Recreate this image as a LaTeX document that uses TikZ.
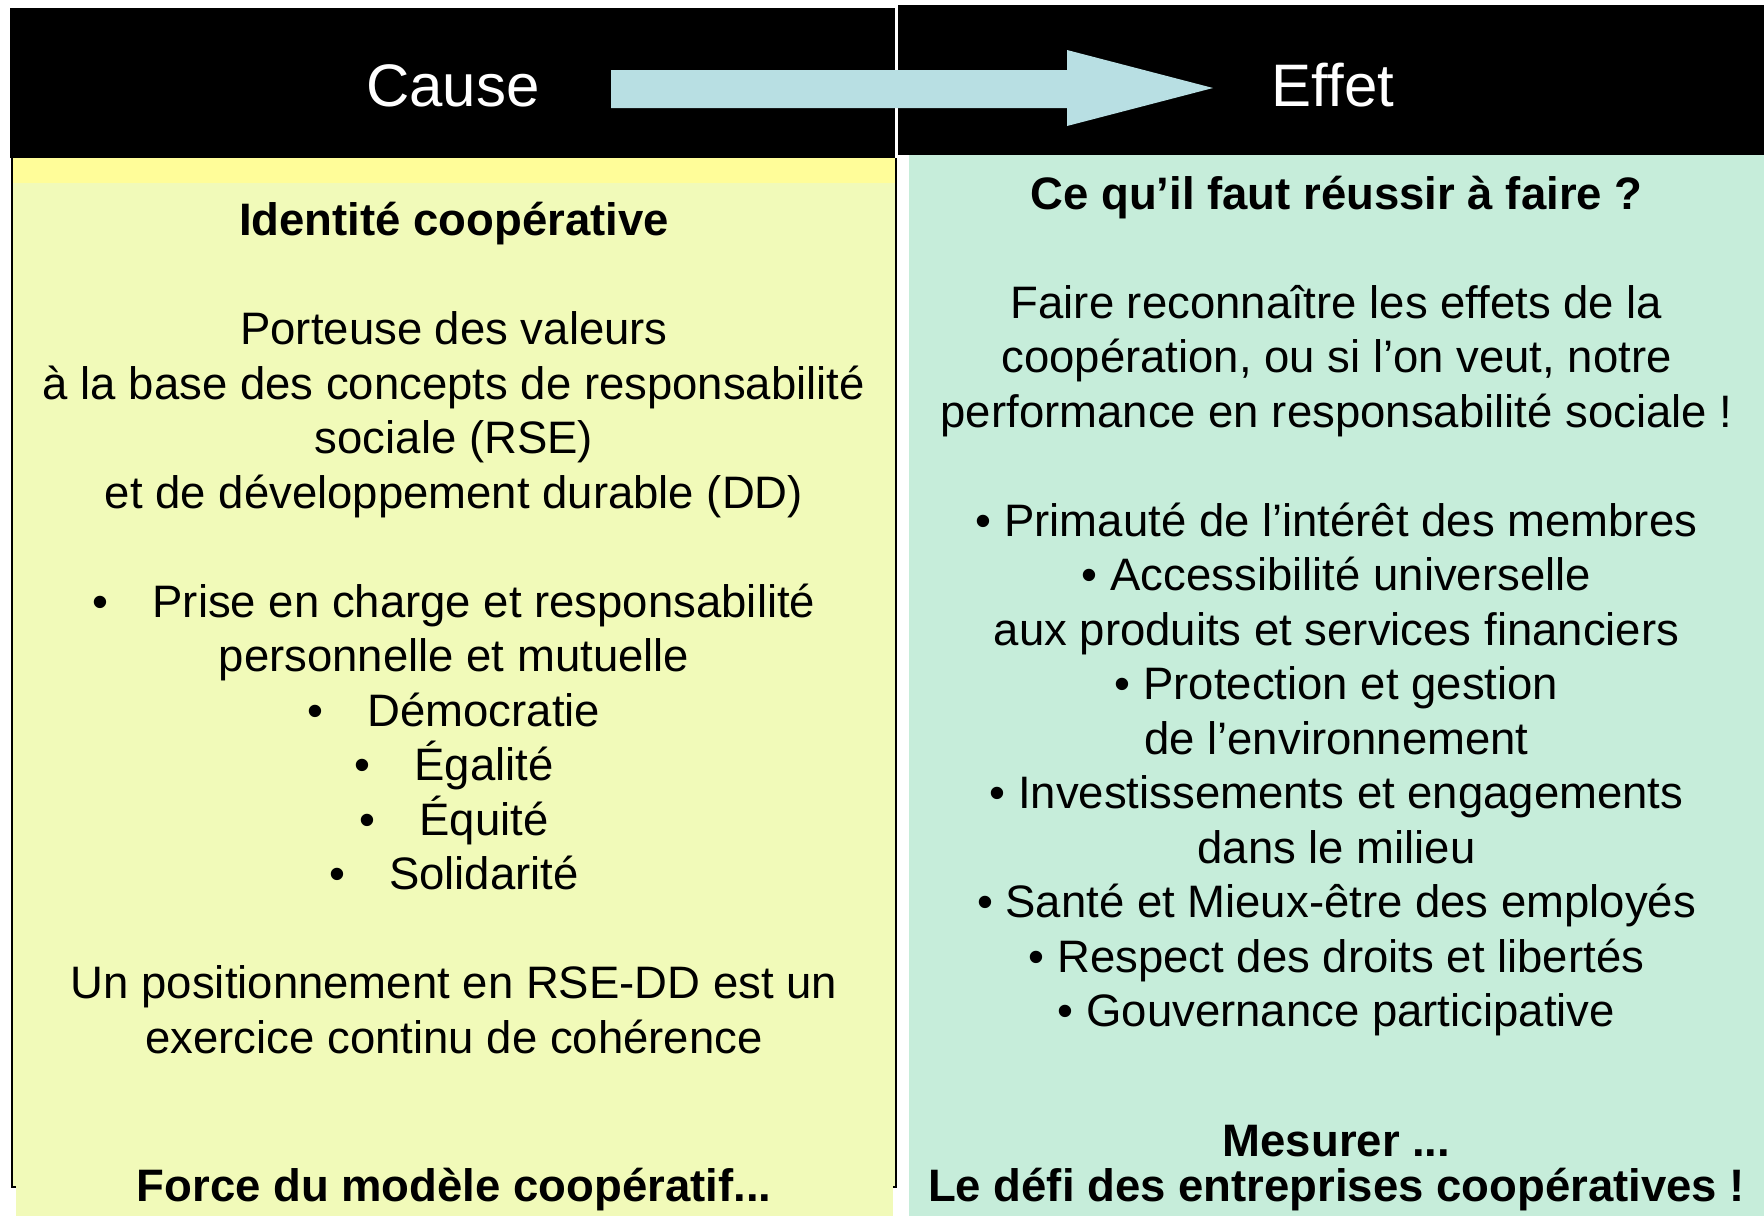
\documentclass[tikz,border=0pt]{standalone}
\usepackage{fontspec}
\setmainfont{Liberation Sans}
\definecolor{yelbox}{HTML}{F1FAB9}
\definecolor{yelstripe}{HTML}{FFFD99}
\definecolor{grnbox}{HTML}{C6EDDA}
\definecolor{arrowblue}{HTML}{B8DFE3}
\newcommand\bodyfont{\fontsize{45.5}{54.5}\selectfont}
\newcommand\headfont{\fontsize{60}{70}\selectfont}
\begin{document}
\begin{tikzpicture}[x=1pt,y=-1pt,
  txt/.style={anchor=base, inner sep=0pt, font=\bodyfont},
  btxt/.style={anchor=base, inner sep=0pt, font=\bodyfont\bfseries},
  head/.style={anchor=base, inner sep=0pt, font=\headfont, text=white}]
\useasboundingbox (0,0) rectangle (1764,1216);
\fill[white] (0,0) rectangle (1764,1216);
% header bars
\fill[black] (10,8) rectangle (895,158);
\fill[black] (898,5) rectangle (1764,155);
% left (cause) box
\fill[yelbox] (13,158) rectangle (896,1187);
\fill[yelstripe] (13,158) rectangle (896,183);
\draw[black, line width=1.5pt] (12,158) -- (12,1187) -- (896,1187) -- (896,158);
\fill[yelbox] (16,1160) rectangle (893,1216);
% right (effect) box
\fill[grnbox] (909,155) rectangle (1764,1216);
% block arrow
\fill[arrowblue] (611,70) -- (1067,70) -- (1067,50) -- (1213,88) -- (1067,126) -- (1067,108) -- (611,108) -- cycle;
% headers
\node[head] (cause) at (453,106) {Cause};
\node[head] (effet) at (1333,106) {Effet};
% left column
\node[btxt] (c0) at (454,235.5) {Identité coopérative};
\node[txt] (c2) at (454,344.5) {Porteuse des valeurs};
\node[txt] (c3) at (454,399) {à la base des concepts de responsabilité};
\node[txt] (c4) at (454,453.5) {sociale (RSE)};
\node[txt] (c5) at (454,508) {et de développement durable (DD)};
\node[txt] (c7) at (454,617) {•\hspace{44pt}Prise en charge et responsabilité};
\node[txt] (c8) at (454,671.5) {personnelle et mutuelle};
\node[txt] (c9) at (454,726) {•\hspace{44pt}Démocratie};
\node[txt] (c10) at (454,780.5) {•\hspace{44pt}Égalité};
\node[txt] (c11) at (454,835) {•\hspace{44pt}Équité};
\node[txt] (c12) at (454,889.5) {•\hspace{44pt}Solidarité};
\node[txt] (c14) at (454,998.5) {Un positionnement en RSE-DD est un};
\node[txt] (c15) at (454,1053) {exercice continu de cohérence};
\node[btxt] (c16) at (454,1201) {Force du modèle coopératif...};
% right column
\node[btxt] (e0) at (1336.5,209) {Ce qu’il faut réussir à faire ?};
\node[txt] (e2) at (1336.5,318) {Faire reconnaître les effets de la};
\node[txt] (e3) at (1336.5,372.5) {coopération, ou si l’on veut, notre};
\node[txt] (e4) at (1336.5,427) {performance en responsabilité sociale !};
\node[txt] (e6) at (1336.5,536) {• Primauté de l’intérêt des membres};
\node[txt] (e7) at (1336.5,590.5) {• Accessibilité universelle};
\node[txt] (e8) at (1336.5,645) {aux produits et services financiers};
\node[txt] (e9) at (1336.5,699.5) {• Protection et gestion};
\node[txt] (e10) at (1336.5,754) {de l’environnement};
\node[txt] (e11) at (1336.5,808.5) {• Investissements et engagements};
\node[txt] (e12) at (1336.5,863) {dans le milieu};
\node[txt] (e13) at (1336.5,917.5) {• Santé et Mieux-être des employés};
\node[txt] (e14) at (1336.5,972) {• Respect des droits et libertés};
\node[txt] (e15) at (1336.5,1026.5) {• Gouvernance participative};
\node[btxt] (e16) at (1336.5,1156) {Mesurer ...};
\node[btxt] (e17) at (1336.5,1201) {Le défi des entreprises coopératives !};
\end{tikzpicture}
\end{document}
